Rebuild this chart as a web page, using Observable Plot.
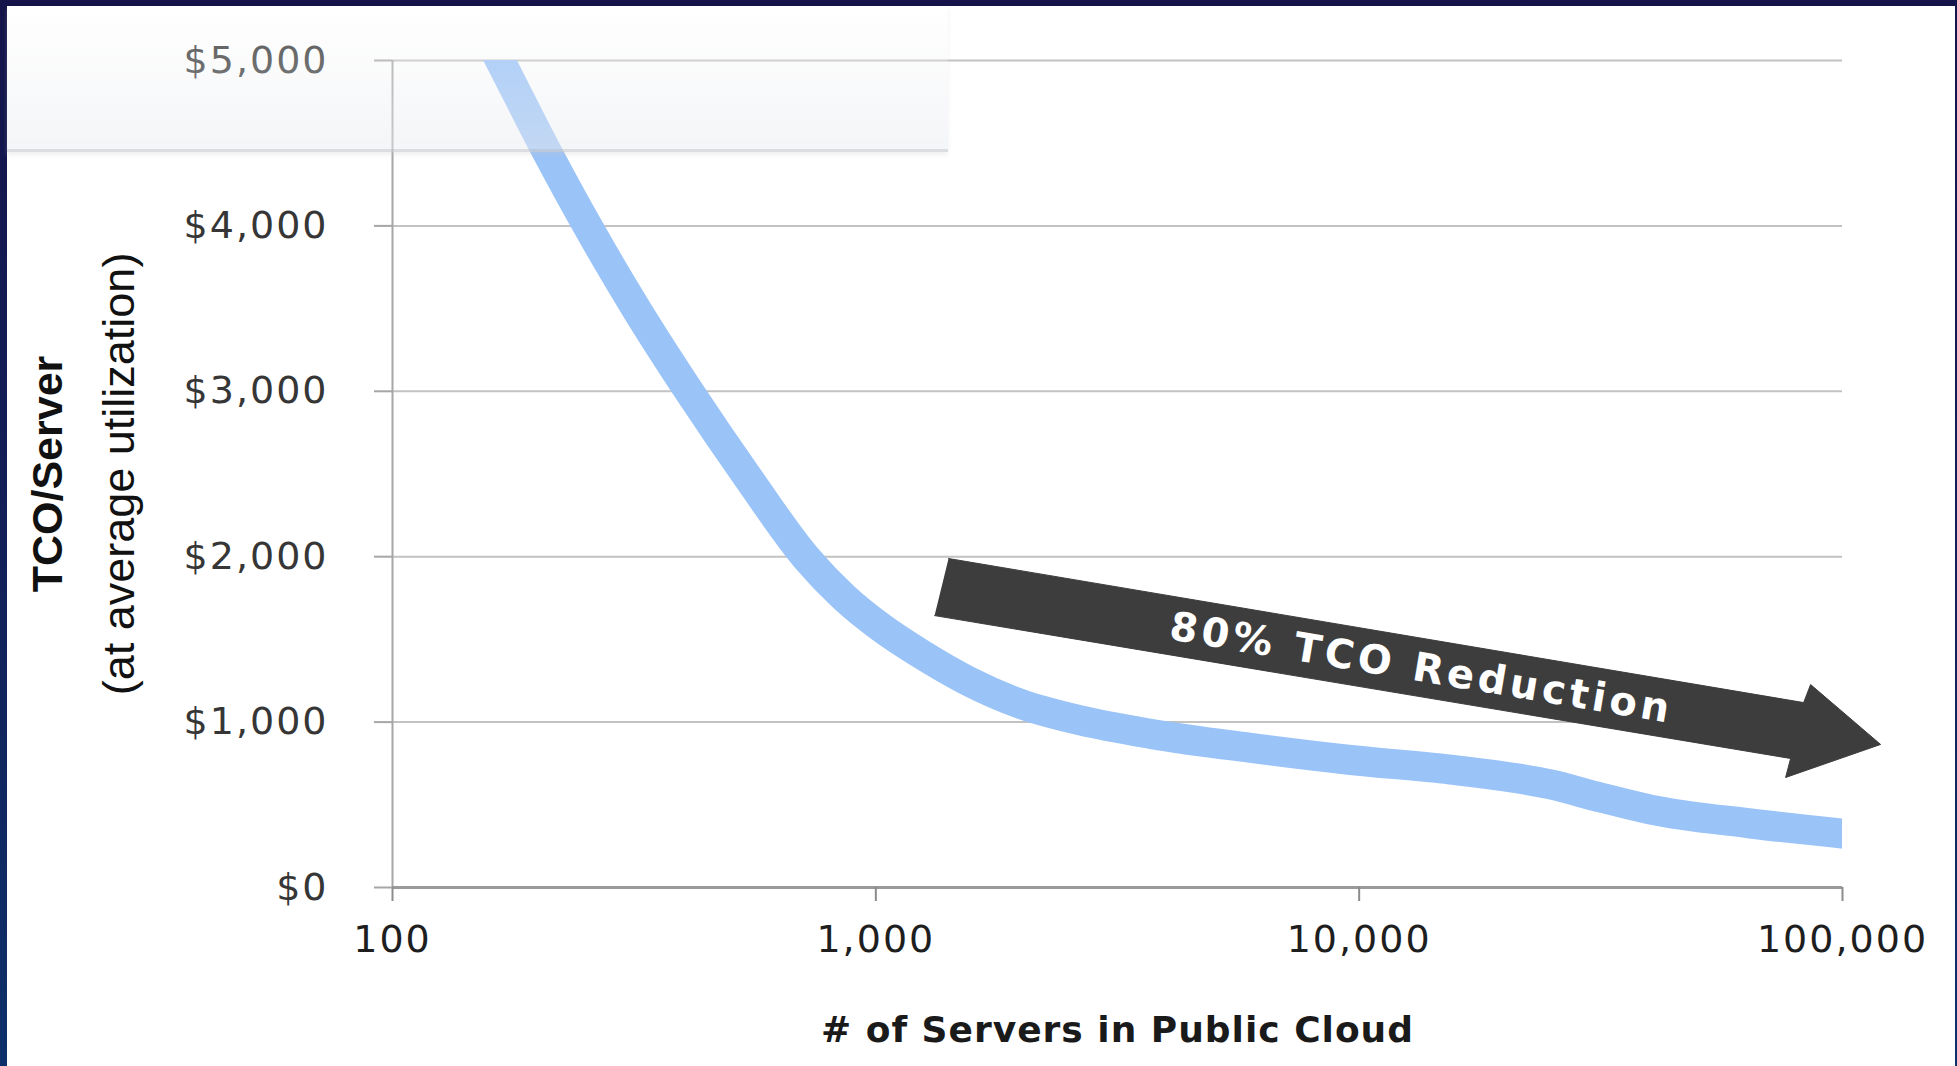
<!DOCTYPE html>
<html>
<head>
<meta charset="utf-8">
<script src="https://cdn.jsdelivr.net/npm/d3@7"></script>
<script src="https://cdn.jsdelivr.net/npm/@observablehq/plot@0.6"></script>
<style>
  html, body { margin: 0; padding: 0; background: #ffffff; }
  #frame { position: relative; width: 1957px; height: 1066px; overflow: hidden;
           background: linear-gradient(180deg, #14144a 0%, #121f58 50%, #0d306a 100%); }
  #paper { position: absolute; left: 7px; top: 6px; right: 2px; bottom: 0; background: #ffffff; }
  #chart { position: absolute; left: 0; top: 0; }
  #shade { position: absolute; left: 7px; top: 6px; width: 941px; height: 143px;
           background: linear-gradient(180deg, rgba(255,255,255,0.15) 0%, rgba(234,236,240,0.5) 100%);
           border-bottom: 3px solid rgba(196,198,204,0.6);
           box-shadow: 0 3px 4px rgba(200,200,205,0.25); z-index: 5; }
  svg text { font-family: "DejaVu Sans", sans-serif; }
  g[aria-label="x-axis tick label"] text { letter-spacing: 2px; }
  g[aria-label="y-axis tick label"] text { letter-spacing: 2px; }
  .ytitle text { font-family: "Liberation Sans", Arial, sans-serif; }
  .xtitle text { letter-spacing: 1px; }
  .arrowtext text { letter-spacing: 4px; }
</style>
</head>
<body>
<div id="frame">
  <div id="paper"></div>
  <div id="chart"></div>
  <div id="shade"></div>
</div>
<script>
// Axis ticks
const xTicks = [100, 1000, 10000, 100000];
const yTicks = [0, 1000, 2000, 3000, 4000, 5000];

// TCO per server curve
const servers = [140, 167, 208, 254, 321, 414, 543, 719, 859, 1023, 1238, 1546, 1993, 2652, 3702, 5962, 9599, 15460, 24890, 31600, 40100, 64500, 100000];
const tco     = [5430, 5000, 4456, 3992, 3488, 2985, 2481, 1991, 1755, 1574, 1413, 1251, 1110, 1010, 929, 844, 771, 713, 623, 544, 471, 387, 326];

// Annotation arrow outline (in data units: servers, $)
const arrowX = [1414, 83100, 85900, 119900, 76250, 78100, 1323];
const arrowY = [1989, 1118, 1227, 865, 665, 780, 1644];
const arrowLabel = ["80% TCO Reduction"];
const arrowLabelX = [13460];
const arrowLabelY = [1324];

// Titles
const xTitle = "# of Servers in Public Cloud";
const yTitle1 = "TCO/Server";
const yTitle2 = "(at average utilization)";

const curve = servers.map((s, i) => ({servers: s, tco: tco[i]}));
const arrow = arrowX.map((x, i) => ({x, y: arrowY[i]}));
const label = arrowLabel.map((t, i) => ({t, x: arrowLabelX[i], y: arrowLabelY[i]}));

const chart = Plot.plot({
  width: 1957,
  height: 1066,
  marginLeft: 392,
  marginRight: 115,
  marginTop: 60,
  marginBottom: 179,
  style: {background: "transparent", overflow: "visible"},
  x: {type: "log", domain: [100, 100000]},
  y: {domain: [0, 5000]},
  marks: [
    Plot.ruleY(yTicks.filter(d => d > 0), {stroke: "#c2c2c2", strokeWidth: 2}),
    Plot.ruleX([100], {stroke: "#a6a6a6", strokeWidth: 2}),
    Plot.ruleY([0], {stroke: "#9a9a9a", strokeWidth: 3}),
    Plot.axisX({ticks: xTicks, tickFormat: d3.format(","), tickSize: 14, tickPadding: 24,
                stroke: "#8c8c8c", strokeWidth: 2, fill: "#1e1e1e", fontSize: 38, label: null}),
    Plot.axisY({ticks: yTicks, tickFormat: d => "$" + d3.format(",")(d), tickSize: 18, tickPadding: 46,
                stroke: "#a6a6a6", strokeWidth: 2, fill: "#363636", fontSize: 38, label: null}),
    Plot.line(curve, {x: "servers", y: "tco", stroke: "#9ac3f8", strokeWidth: 30,
                      curve: "monotone-x", clip: true}),
    Plot.line(arrow, {x: "x", y: "y", fill: "#3d3d3d", stroke: "#3d3d3d", strokeWidth: 1}),
    Plot.text(label, {x: "x", y: "y", text: "t", rotate: 9.5, fill: "#ffffff", fontSize: 40,
                      fontWeight: "bold", className: "arrowtext"}),
    Plot.text([xTitle], {frameAnchor: "bottom", dy: 154, fontSize: 36, fontWeight: "bold",
                         fill: "#1a1a1a", className: "xtitle"}),
    Plot.text([yTitle1], {frameAnchor: "left", textAnchor: "middle", dx: -344, rotate: -90,
                          fontSize: 43, fontWeight: "bold", fill: "#111111", className: "ytitle"}),
    Plot.text([yTitle2], {frameAnchor: "left", textAnchor: "middle", dx: -273, rotate: -90,
                          fontSize: 45, fill: "#111111", className: "ytitle"})
  ]
});
document.getElementById("chart").appendChild(chart);
</script>
</body>
</html>
